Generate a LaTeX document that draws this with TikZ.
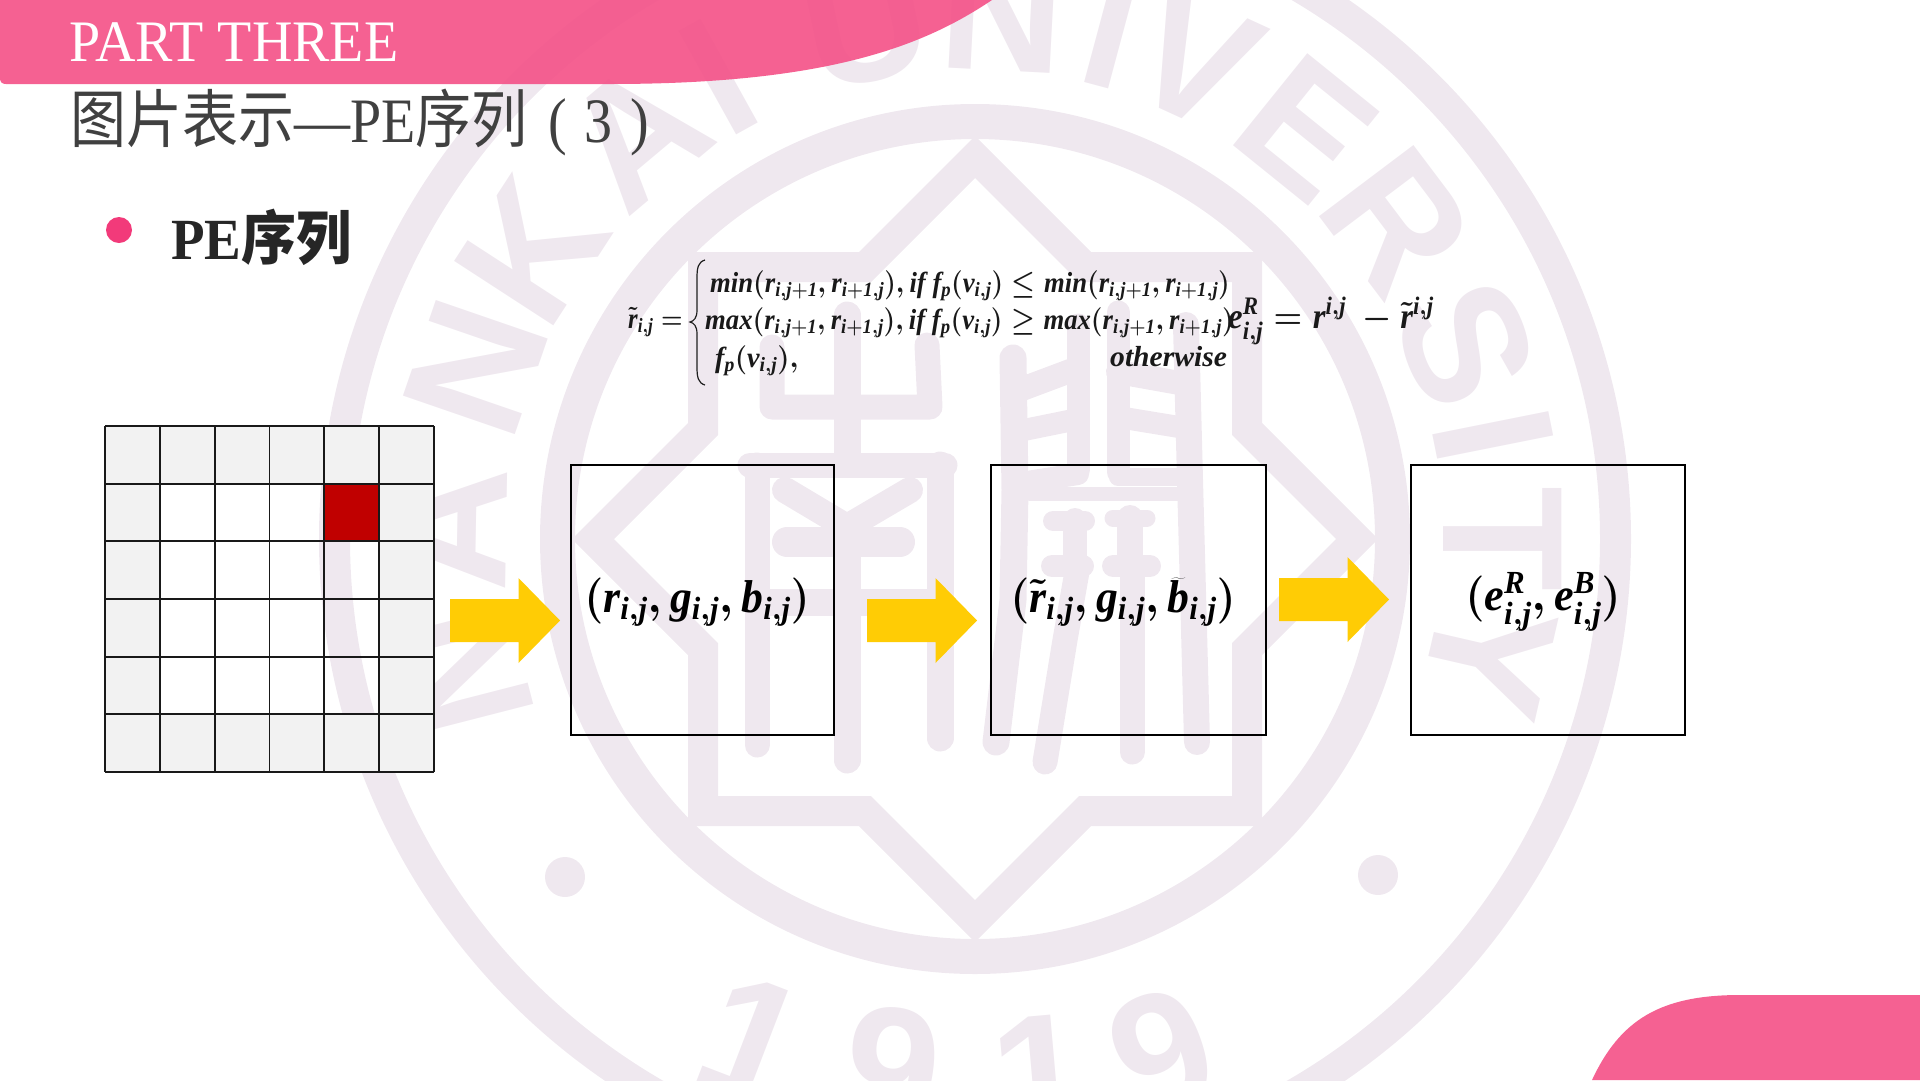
\documentclass[tikz,border=0pt]{standalone}
\usepackage{fix-cm}
\usepackage{fontspec}
\setmainfont{Liberation Serif}
\newfontfamily\cjk{Noto Sans CJK SC}
\newfontfamily\crestfont{Liberation Sans}
\newfontfamily\mthfont[NFSSFamily=mth]{Liberation Serif}
\DeclareMathAlphabet{\mbi}{TU}{mth}{b}{it}
\definecolor{crest}{HTML}{EFE8EF}
\definecolor{banner}{HTML}{F4558A}
\definecolor{bulletpink}{HTML}{F23A7A}
\definecolor{arrowgold}{HTML}{FFCC05}
\definecolor{cellgray}{HTML}{F2F2F2}
\definecolor{cellred}{HTML}{C00000}
\tikzset{
	seal/.style={draw=crest, line cap=round, line join=round, line width=#1},
	seal/.default=25pt,
	crestletter/.style={text=crest, font=\crestfont\bfseries\fontsize{172}{172}\selectfont, inner sep=0pt},
	formula/.style={anchor=base west, inner sep=0pt, text=black!90, font=\fontsize{29}{34}\selectfont\boldmath},
	tuple/.style={inner sep=0pt, text=black, font=\fontsize{46}{52}\selectfont\boldmath},
	valuebox/.style={draw=black, line width=2pt, minimum width=263pt, minimum height=270pt, inner sep=0pt},
}
\newcommand{\sij}{_{\mbi{i,j}}}
\newcommand{\pbr}[1]{{\left(#1\right)}}
\newcommand{\rpair}{\pbr{\mbi{r}_{\mbi{i,j}+\mbi{1}},\mbi{r}_{\mbi{i}+\mbi{1},\mbi{j}}}}
\newcommand{\fpv}{\mbi{f}_{\mbi{p}}\pbr{\mbi{v}\sij}}
\newcommand{\narrow}[2]{\scalebox{#1}[1]{#2}}
\newcommand{\tall}[2]{\scalebox{1}[#1]{#2}}
\begin{document}
\begin{tikzpicture}[x=1pt,y=-1pt]
	\useasboundingbox (0,0) rectangle (1920,1080);
	\clip (0,0) rectangle (1920,1080);

	% crest behind everything
	\fill[crest, even odd rule] (975,539) circle (656pt) circle (625pt);
	\fill[crest, even odd rule] (975,539) circle (435pt) circle (400pt);
	\fill[crest] (565,877) circle (20pt);
	\fill[crest] (1378,875) circle (20pt);
	\begin{scope}[shift={(975,539)}]
		\fill[crest, even odd rule]
			(0,-403) -- (116,-287) -- (287,-287) -- (287,-116) -- (403,0) -- (287,116) -- (287,287) -- (116,287)
			-- (0,403) -- (-116,287) -- (-287,287) -- (-287,116) -- (-403,0) -- (-287,-116) -- (-287,-287) -- (-116,-287) -- cycle
			(0,-361) -- (104,-257) -- (257,-257) -- (257,-104) -- (361,0) -- (257,104) -- (257,257) -- (104,257)
			-- (0,361) -- (-104,257) -- (-257,257) -- (-257,104) -- (-361,0) -- (-257,-104) -- (-257,-257) -- (-104,-257) -- cycle;
	\end{scope}
	\foreach \a/\ch [count=\i] in {-104.4/N,-89/A,-71/N,-57/K,-40/A,-29/I,-12/U,3/N,15/I,24.7/V,38.9/E,53/R,68.3/S,78.7/I,90/T,103/Y}
		\node[crestletter, rotate=-\a] (letter\i) at ({975+528*sin(\a)},{539-528*cos(\a)}) {\ch};
	\node[crestletter, rotate=-21] (year1) at (752,1040) {1};
	\node[crestletter, rotate=-8] (year2) at (892,1069) {9};
	\node[crestletter, rotate=5] (year3) at (1040,1075) {1};
	\node[crestletter, rotate=20] (year4) at (1162,1053) {9};

	% south
	\draw[seal] (772,347) -- (772,407) -- (930,407) -- (927,345);
	\draw[seal=27pt] (847,315) -- (847,455);
	\draw[seal] (750,465) -- (945,465);
	\draw[seal] (757,465) -- (757,745);
	\draw[seal=27pt] (940,465) -- (940,738);
	\draw[seal=26pt] (785,490) -- (847,527) -- (910,490);
	\draw[seal=30pt] (787,542) -- (900,542);
	\draw[seal=27pt] (770,602) -- (930,602);
	\draw[seal=27pt] (847,527) -- (847,760);
	% open
	\draw[seal=27pt] (1013,358) -- (1015,490) -- (1013,600) -- (996,742);
	\draw[seal=23pt] (1078,325) -- (1078,470);
	\draw[seal=23pt] (1118,312) -- (1118,472);
	\draw[seal=26pt] (1186,325) -- (1190,480) -- (1197,742);
	\draw[seal=24pt] (1014,392) -- (1078,368);
	\draw[seal=22pt] (1014,432) -- (1078,419);
	\draw[seal=22pt] (1014,484) -- (1078,474);
	\draw[seal=24pt] (1118,372) -- (1185,384);
	\draw[seal=22pt] (1118,417) -- (1185,428);
	\draw[seal=18pt] (1118,477) -- (1185,477);
	\draw[seal=14pt] (1030,494) -- (1185,494);
	\draw[seal=20pt] (1053,521) -- (1085,521);
	\draw[seal=24pt] (1075,520) -- (1075,565);
	\draw[seal=22pt] (1052,566) -- (1083,566);
	\draw[seal=25pt] (1078,566) -- (1065,640) -- (1045,762);
	\draw[seal=17pt] (1113,518) -- (1147,518);
	\draw[seal=26pt] (1130,518) -- (1130,565);
	\draw[seal=22pt] (1113,566) -- (1150,566);
	\draw[seal=25pt] (1132,566) -- (1132,752);

	% pink corners
	\fill[banner, fill opacity=0.93] (0,0) -- (992,0) .. controls (925,45) and (830,84) .. (610,84) -- (6,84) .. controls (2,84) and (0,82) .. (0,78) -- cycle;
	\fill[banner, fill opacity=0.93] (1592,1080) .. controls (1620,1020) and (1660,995) .. (1740,995) -- (1920,995) -- (1920,1080) -- cycle;

	\node[anchor=base west, inner sep=0pt, text=white, font=\fontsize{56}{60}\selectfont] (part) at (69,61) {\tall{1.05}{PART THREE}};
	\node[anchor=base west, inner sep=0pt, text=black!75, font=\fontsize{56}{60}\selectfont] (title) at (70,142) {\tall{1.13}{{\cjk 图片表示}—PE{\cjk 序列}\hspace{21pt}(\hspace{17pt}3\hspace{18pt})}};
	\fill[bulletpink] (119,230) circle (13pt);
	\node[anchor=base west, inner sep=0pt, text=black!85, font=\fontsize{55}{60}\selectfont\bfseries] (head) at (171,259) {\tall{1.06}{PE{\cjk 序列}}};

	% pixel block
	\foreach \c in {0,...,5}
		\foreach \r in {0,5}
			\fill[cellgray] ({105+54.83*\c},{426+57.67*\r}) rectangle ++(54.83,57.67);
	\foreach \r in {1,...,4} {
		\fill[cellgray] (105,{426+57.67*\r}) rectangle ++(54.83,57.67);
		\fill[cellgray] (379.15,{426+57.67*\r}) rectangle ++(54.83,57.67);
	}
	\fill[cellred] (324.32,483.67) rectangle (379.15,541.33);
	\foreach \c in {0,...,6}
		\draw[black!90, line width=1.9pt] ({105+54.83*\c},426) -- ({105+54.83*\c},772);
	\foreach \r in {0,...,6}
		\draw[black!90, line width=1.9pt] (105,{426+57.67*\r}) -- (434,{426+57.67*\r});

	% formula above the boxes
	\node[formula] (rdef) at (628,328) {\narrow{.85}{$\tilde{\mbi{r}}\sij =$}};
	\draw[black!88, line width=1.2pt] (705,260) .. controls (698,262) and (697,268) .. (697,278) -- (697,310) .. controls (697,318) and (694,321) .. (690,322) .. controls (694,323) and (697,326) .. (697,334) -- (697,367) .. controls (697,377) and (698,383) .. (705,385);
	\node[formula] (caseone) at (710,292) {\narrow{.92}{$\mbi{min}\rpair,\mbi{if}\ \fpv\le\mbi{min}\rpair$}};
	\node[formula] (casetwo) at (705,329) {\narrow{.92}{$\mbi{max}\rpair,\mbi{if}\ \fpv\ge\mbi{max}\rpair$}};
	\node[formula] (casethree) at (715,367) {\narrow{.97}{$\fpv,$}};
	\node[formula] (otherw) at (1110,366) {\narrow{1.02}{$\mbi{otherwise}$}};
	\node[formula, font=\fontsize{36}{40}\selectfont\boldmath] (edef) at (1228,328) {\narrow{.91}{$\mbi{e}^{\mbi{R}}_{\mbi{i,j}}=\mbi{r}^{\mbi{i,j}}\ -\tilde{\mbi{r}}^{\mbi{i,j}}$}};

	% boxes
	\node[valuebox] (boxa) at (702.5,599.5) {};
	\node[valuebox, minimum width=275pt] (boxb) at (1128.5,599.5) {};
	\node[valuebox, minimum width=274pt] (boxc) at (1548,599.5) {};
	\node[tuple] (rgb) at (697,602) {\narrow{.95}{$\pbr{\mbi{r}\sij,\mbi{g}\sij,\mbi{b}\sij}$}};
	\node[tuple] (rgbt) at (1123,602) {\narrow{.95}{$\pbr{\tilde{\mbi{r}}\sij,\mbi{g}\sij,\widetilde{\mbi{b}}\sij}$}};
	\node[tuple] (errs) at (1543,602) {\narrow{.96}{$(\mbi{e}^{\mbi{R}}_{\mbi{i,j}},\mbi{e}^{\mbi{B}}_{\mbi{i,j}})$}};

	% arrows
	\foreach \x/\y in {450/620.5,867/620.5,1279/599.5}
		\fill[arrowgold] (\x,\y-21.5) -- ++(68.5,0) -- ++(0,-21) -- ({\x+110},\y) -- ({\x+68.5},\y+42.5) -- ++(0,-21) -- (\x,\y+21.5) -- cycle;
\end{tikzpicture}
\end{document}
